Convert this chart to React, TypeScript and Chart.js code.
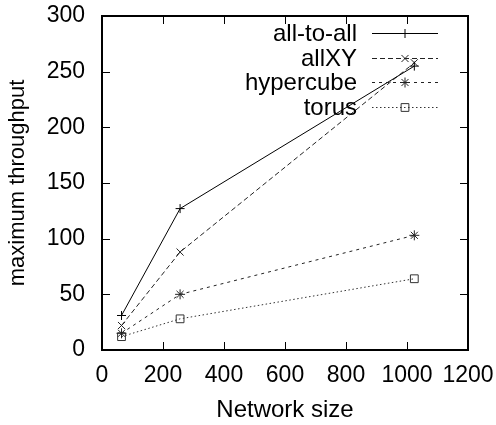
import React, { useEffect, useRef } from "react";
import { Chart, registerables } from "chart.js";
import { drawPoint } from "chart.js/helpers";

Chart.register(...registerables);

const networkSizes = [64, 256, 1024];
const allToAll = [31, 127, 255];
const allXY = [22, 88, 258];
const hypercube = [15, 50, 103];
const torus = [12, 28, 64];
const seriesNames = ["all-to-all", "allXY", "hypercube", "torus"];
const xTicks = [0, 200, 400, 600, 800, 1000, 1200];
const yTicks = [0, 50, 100, 150, 200, 250, 300];

const FONT = "Liberation Sans, Arial, Helvetica, sans-serif";

const boxPlugin = {
  id: "gnuplotBox",
  afterDatasetsDraw(chart: any) {
    const ctx: CanvasRenderingContext2D = chart.ctx;
    const area = chart.chartArea;
    const left = Math.round(area.left);
    const right = Math.round(area.right);
    const top = Math.round(area.top);
    const bottom = Math.round(area.bottom);
    const xs = chart.scales.x;
    const ys = chart.scales.y;
    ctx.save();
    ctx.setLineDash([]);
    ctx.lineDashOffset = 0;
    ctx.globalAlpha = 1;
    ctx.strokeStyle = "#000";
    ctx.lineWidth = 2;
    ctx.beginPath();
    ctx.moveTo(left, top);
    ctx.lineTo(right, top);
    ctx.lineTo(right, bottom);
    ctx.lineTo(left, bottom);
    ctx.closePath();
    ctx.stroke();
    ctx.lineWidth = 1;
    const tl = 8;
    ctx.beginPath();
    xTicks.forEach((v) => {
      const px = Math.round(xs.getPixelForValue(v)) + 0.5;
      ctx.moveTo(px, bottom);
      ctx.lineTo(px, bottom - tl);
      ctx.moveTo(px, top);
      ctx.lineTo(px, top + tl);
    });
    yTicks.forEach((v) => {
      const py = Math.round(ys.getPixelForValue(v)) + 0.5;
      ctx.moveTo(left, py);
      ctx.lineTo(left + tl, py);
      ctx.moveTo(right, py);
      ctx.lineTo(right - tl, py);
    });
    ctx.stroke();

    // legend
    ctx.font = `24px ${FONT}`;
    ctx.textAlign = "right";
    ctx.textBaseline = "middle";
    chart.data.datasets.forEach((ds: any, i: number) => {
      const y = Math.round(top + 17 + i * 24.6) + 0.5;
      ctx.fillStyle = "#000";
      ctx.fillText(ds.label, right - 111, y + 1);
      ctx.strokeStyle = ds.borderColor;
      ctx.lineWidth = 1;
      ctx.setLineDash(ds.borderDash || []);
      ctx.beginPath();
      ctx.moveTo(right - 96, y);
      ctx.lineTo(right - 30, y);
      ctx.stroke();
      ctx.setLineDash([]);
      ctx.fillStyle = "transparent";
      drawPoint(
        ctx,
        {
          pointStyle: ds.pointStyle,
          rotation: 0,
          radius: ds.pointRadius,
          borderWidth: 1,
        } as any,
        right - 63,
        y
      );
    });
    ctx.restore();
  },
};

export default function App() {
  const ref = useRef<HTMLCanvasElement>(null);
  useEffect(() => {
    document.body.style.margin = "0";
    const canvas = ref.current!;
    const mk = (label: string, data: number[], color: string, dash: number[], style: string, r: number) => ({
      label,
      data: data.map((y, i) => ({ x: networkSizes[i], y })),
      borderColor: color,
      backgroundColor: "transparent",
      borderWidth: 1,
      borderDash: dash,
      pointStyle: style,
      pointRadius: r,
      pointBorderColor: color,
      pointBackgroundColor: "transparent",
      pointBorderWidth: 1,
      fill: false,
      tension: 0,
    });
    const chart = new Chart(canvas, {
      type: "line",
      data: {
        datasets: [
          mk(seriesNames[0], allToAll, "#000", [], "cross", 4.5),
          mk(seriesNames[1], allXY, "#222", [5, 3], "crossRot", 5),
          mk(seriesNames[2], hypercube, "#222", [3, 4], "star", 5),
          mk(seriesNames[3], torus, "#333", [1.5, 2.5], "rect", 5.5),
        ] as any,
      },
      plugins: [boxPlugin],
      options: {
        animation: false,
        responsive: false,
        layout: { padding: { left: 0, right: 28, top: 16, bottom: 0 } },
        plugins: { legend: { display: false }, tooltip: { enabled: false } },
        scales: {
          x: {
            type: "linear",
            min: 0,
            max: 1200,
            afterFit: (s: any) => {
              s.height = 75;
              s.paddingLeft = 0;
              s.paddingRight = 0;
            },
            afterBuildTicks: (s: any) => {
              s.ticks = xTicks.map((v) => ({ value: v }));
            },
            grid: { display: false, drawTicks: false },
            border: { display: false },
            ticks: {
              font: { family: FONT, size: 23 },
              color: "#000",
              padding: 12,
              maxRotation: 0,
              autoSkip: false,
              callback: (v: any) => String(v),
            },
            title: {
              display: true,
              text: "Network size",
              font: { family: FONT, size: 24 },
              color: "#000",
              padding: { top: 0, bottom: 0 },
            },
          },
          y: {
            type: "linear",
            min: 0,
            max: 300,
            afterFit: (s: any) => {
              s.width = 102;
              s.paddingTop = 0;
              s.paddingBottom = 0;
            },
            afterBuildTicks: (s: any) => {
              s.ticks = yTicks.map((v) => ({ value: v }));
            },
            grid: { display: false, drawTicks: false },
            border: { display: false },
            ticks: {
              font: { family: FONT, size: 23 },
              color: "#000",
              padding: 17,
              autoSkip: false,
              callback: (v: any) => String(v),
            },
            title: {
              display: true,
              text: "maximum throughput",
              font: { family: FONT, size: 22 },
              color: "#000",
              padding: { top: 5, bottom: 0 },
            },
          },
        },
      },
    });
    return () => chart.destroy();
  }, []);
  return (
    <div style={{ width: 496, height: 425, background: "#fff" }}>
      <canvas ref={ref} width={496} height={425} style={{ display: "block" }} />
    </div>
  );
}
